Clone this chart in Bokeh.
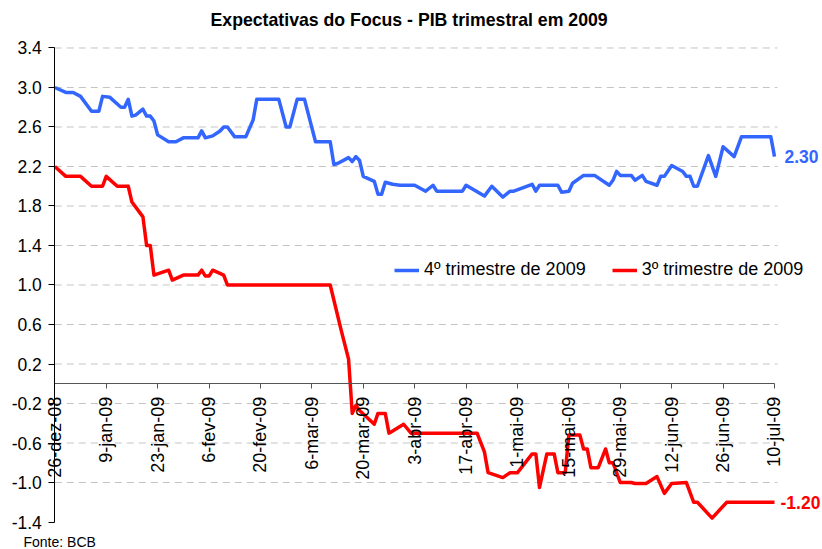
import math
import pandas as pd
from bokeh.plotting import figure
from bokeh.models import (ColumnDataSource, FixedTicker, Range1d, Legend, LegendItem,
                          Title, NumeralTickFormatter)
from bokeh.core.properties import value
from bokeh.embed import file_html
from bokeh.resources import INLINE

# ---------------- data ----------------
start_date = "2008-12-26"

# days since 26-dez-08 and expected GDP growth (%), 4th quarter of 2009
q4_days = [0, 3, 5, 7, 10, 12, 13, 15, 18, 19, 20, 21, 22, 24, 25, 26, 27, 28, 31, 33,
           35, 39, 40, 41, 43, 45, 46, 47, 49, 52, 54, 55, 61, 63, 64, 66, 68, 71, 75, 76,
           77, 80, 81, 82, 83, 84, 87, 88, 89, 90, 92, 94, 98, 101, 103, 104, 111, 112, 117, 119,
           122, 124, 125, 130, 131, 132, 137, 138, 140, 141, 144, 147, 151, 152, 153, 154, 157, 158, 160, 161,
           164, 165, 166, 168, 171, 172, 173, 174, 175, 178, 180, 182, 185, 187, 195, 196]
q4_values = [3.00, 2.95, 2.95, 2.91, 2.76, 2.76, 2.91, 2.90, 2.80, 2.80, 2.88, 2.71, 2.72, 2.78, 2.71, 2.71, 2.66, 2.52, 2.45, 2.45,
             2.49, 2.49, 2.56, 2.49, 2.51, 2.56, 2.60, 2.60, 2.50, 2.50, 2.67, 2.88, 2.88, 2.60, 2.60, 2.88, 2.88, 2.45, 2.45, 2.22,
             2.23, 2.29, 2.25, 2.30, 2.26, 2.10, 2.05, 1.92, 1.92, 2.04, 2.02, 2.01, 2.01, 1.95, 2.01, 1.95, 1.95, 2.01, 1.90, 2.00,
             1.89, 1.95, 1.95, 2.02, 1.95, 2.01, 2.01, 1.94, 1.95, 2.03, 2.11, 2.11, 2.01, 2.06, 2.15, 2.11, 2.11, 2.06, 2.11, 2.05,
             2.01, 2.10, 2.10, 2.21, 2.15, 2.10, 2.10, 2.00, 2.00, 2.31, 2.10, 2.40, 2.30, 2.50, 2.50, 2.30]

# 3rd quarter of 2009
q3_days = [0, 3, 7, 10, 13, 14, 17, 20, 21, 24, 25, 26, 27, 31, 32, 35, 39, 40, 41, 42,
           43, 46, 47, 75, 78, 80, 81, 82, 83, 87, 88, 90, 91, 95, 97, 115, 117, 118, 122, 124,
           126, 130, 131, 132, 134, 136, 137, 139, 140, 143, 144, 145, 146, 148, 150, 151, 152, 154, 157, 158,
           161, 164, 166, 168, 172, 174, 175, 179, 183, 196]
q3_values = [2.20, 2.10, 2.10, 2.00, 2.00, 2.10, 2.00, 2.00, 1.84, 1.69, 1.40, 1.40, 1.10, 1.15, 1.05, 1.10, 1.10, 1.15, 1.09, 1.09,
             1.15, 1.10, 1.00, 1.00, 0.54, 0.25, -0.30, -0.22, -0.27, -0.41, -0.30, -0.30, -0.50, -0.41, -0.50, -0.50, -0.69, -0.90, -0.95, -0.90,
             -0.90, -0.71, -0.71, -1.05, -0.71, -0.71, -0.90, -0.90, -0.52, -0.52, -0.66, -0.66, -0.85, -0.85, -0.66, -0.80, -0.80, -1.00, -1.00, -1.01,
             -1.01, -0.94, -1.11, -1.01, -1.00, -1.20, -1.20, -1.36, -1.20, -1.20]

series_names = ["4º trimestre de 2009", "3º trimestre de 2009"]

x_tick_dates = ["2008-12-26", "2009-01-09", "2009-01-23", "2009-02-06", "2009-02-20",
                "2009-03-06", "2009-03-20", "2009-04-03", "2009-04-17", "2009-05-01",
                "2009-05-15", "2009-05-29", "2009-06-12", "2009-06-26", "2009-07-10"]
x_tick_labels = ["26-dez-08", "9-jan-09", "23-jan-09", "6-fev-09", "20-fev-09",
                 "6-mar-09", "20-mar-09", "3-abr-09", "17-abr-09", "1-mai-09",
                 "15-mai-09", "29-mai-09", "12-jun-09", "26-jun-09", "10-jul-09"]
y_ticks = [-1.4, -1.0, -0.6, -0.2, 0.2, 0.6, 1.0, 1.4, 1.8, 2.2, 2.6, 3.0, 3.4]

# ---------------- helpers ----------------
t0 = pd.Timestamp(start_date)


def to_ms(ts):
    return float(ts.value // 10**6)


q4_dates = [t0 + pd.Timedelta(days=d) for d in q4_days]
q3_dates = [t0 + pd.Timedelta(days=d) for d in q3_days]

FONT = "Liberation Sans"
BLUE = "#3366FF"
RED = "#FF0000"

# the frame covers the whole canvas width so that the axes (placed at fixed
# data positions) and their labels are not clipped
x_start = to_ms(t0 - pd.Timedelta(days=14.79))
x_end = to_ms(t0 + pd.Timedelta(days=209.07))
y_lo, y_hi = -1.496, 3.577
last_tick = pd.Timestamp(x_tick_dates[-1])

p = figure(width=822, height=549, x_axis_type="datetime",
           output_backend="svg", toolbar_location=None,
           x_range=Range1d(x_start, x_end), y_range=Range1d(y_lo, y_hi),
           min_border_left=0, min_border_right=0, min_border_top=30, min_border_bottom=18)
p.outline_line_color = None
p.xgrid.visible = False
p.ygrid.visible = False

# title
p.title.text = "Expectativas do Focus - PIB trimestral em 2009"
p.title.text_font = FONT
p.title.text_font_size = "17.7px"
p.title.text_font_style = "bold"
p.title.text_color = "black"
p.title.align = "left"
p.title.offset = 210
p.title.standoff = 2

# dashed horizontal grid
grid_vals = [v for v in y_ticks if v > -1.4]
grid_src = ColumnDataSource(dict(
    x0=[t0] * len(grid_vals),
    x1=[last_tick + pd.Timedelta(days=0.8)] * len(grid_vals),
    y=grid_vals))
p.segment(x0="x0", y0="y", x1="x1", y1="y", source=grid_src,
          line_color="#c4c4c4", line_width=1, line_dash="7 5")

# lines
src4 = ColumnDataSource(dict(x=q4_dates, y=q4_values))
src3 = ColumnDataSource(dict(x=q3_dates, y=q3_values))
r4 = p.line("x", "y", source=src4, line_color=BLUE, line_width=3.5, line_join="round")
r3 = p.line("x", "y", source=src3, line_color=RED, line_width=3.5, line_join="round")

# end labels
p.text(x=[q4_dates[-1]], y=[q4_values[-1]], text=[f"{q4_values[-1]:.2f}"],
       x_offset=10, text_baseline="middle", text_align="left",
       text_font=value(FONT), text_font_style="bold", text_font_size="17.5px",
       text_color=BLUE)
p.text(x=[q3_dates[-1]], y=[q3_values[-1]], text=[f"{q3_values[-1]:.2f}"],
       x_offset=6, text_baseline="middle", text_align="left",
       text_font=value(FONT), text_font_style="bold", text_font_size="17.5px",
       text_color=RED)

# y axis at the first date
ya = p.yaxis[0]
ya.ticker = FixedTicker(ticks=y_ticks)
ya.formatter = NumeralTickFormatter(format="0.0")
ya.fixed_location = to_ms(t0)
ya.bounds = (y_ticks[0], y_ticks[-1])
ya.major_label_text_font = FONT
ya.major_label_text_font_size = "17.5px"
ya.major_label_text_color = "black"
ya.major_tick_in = 0
ya.major_tick_out = 6
ya.minor_tick_line_color = None
ya.major_label_standoff = 7
ya.axis_line_color = "black"
ya.major_tick_line_color = "black"

# x axis at y = 0
xa = p.xaxis[0]
tick_ms = [to_ms(pd.Timestamp(d)) for d in x_tick_dates]
xa.ticker = FixedTicker(ticks=tick_ms)
xa.major_label_overrides = {ms: lab for ms, lab in zip(tick_ms, x_tick_labels)}
xa.fixed_location = 0
xa.bounds = (tick_ms[0], tick_ms[-1])
xa.major_label_orientation = math.pi / 2
xa.major_label_text_font = FONT
xa.major_label_text_font_size = "18px"
xa.major_label_text_color = "black"
xa.major_tick_in = 0
xa.major_tick_out = 5
xa.minor_tick_line_color = None
xa.major_label_standoff = 8
xa.axis_line_color = "#555555"
xa.major_tick_line_color = "#555555"

# legend
legend = Legend(items=[LegendItem(label=series_names[0], renderers=[r4]),
                       LegendItem(label=series_names[1], renderers=[r3])],
                orientation="horizontal", location=(394, 251),
                padding=0, margin=0, spacing=26, glyph_width=25, glyph_height=20,
                label_height=20, label_standoff=5,
                label_text_font=FONT, label_text_font_size="18px",
                label_text_color="black",
                border_line_color=None, background_fill_alpha=0)
p.add_layout(legend)

# source note
p.add_layout(Title(text="Fonte: BCB", align="left", offset=23, standoff=0,
                   text_font=FONT, text_font_size="14px", text_font_style="normal",
                   text_color="black"),
             "below")

open("out.html", "w").write(file_html(p, INLINE))
